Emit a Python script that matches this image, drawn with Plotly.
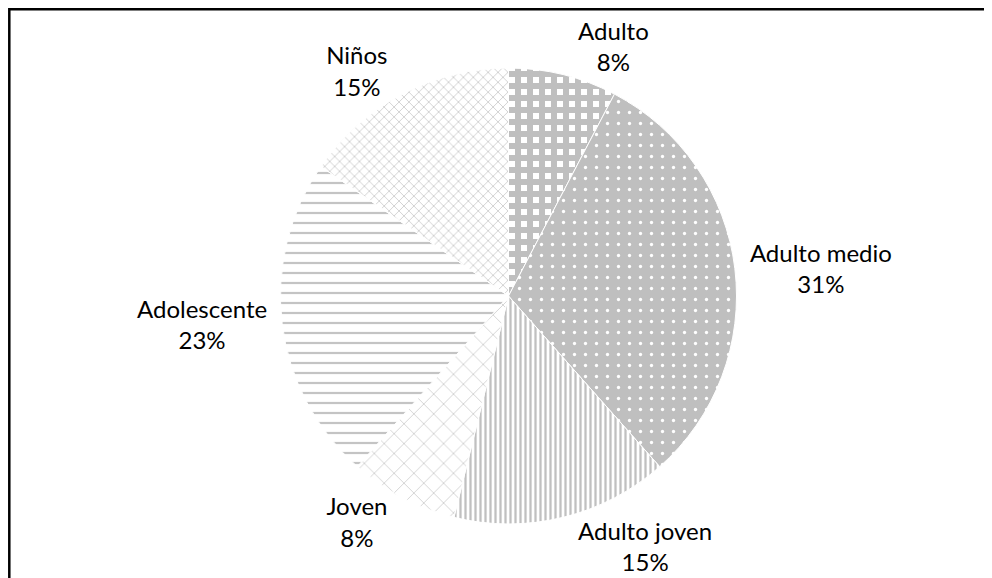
import plotly.graph_objects as go

labels = ["Adulto", "Adulto medio", "Adulto joven", "Joven", "Adolescente", "Niños"]
values = [1, 4, 2, 1, 3, 2]
pct_labels = ["8%", "31%", "15%", "8%", "23%", "15%"]

shapes = ["+", ".", "|", "x", "-", "x"]
fg = ["#bfbfbf", "#ffffff", "#c0c0c0", "#cfcfcf", "#c4c4c4", "#d0d0d0"]
bg = ["#ffffff", "#bfbfbf", "#ffffff", "#ffffff", "#ffffff", "#ffffff"]
sizes = [12, 11, 5, 14, 10, 7]
solid = [0.75, 0.07, 0.45, 0.12, 0.22, 0.25]

W, H = 992, 578
cx, cy, r = 500.5, 288, 228

fig = go.Figure(go.Pie(
    labels=labels,
    values=values,
    text=[f"{l}<br>{p}" for l, p in zip(labels, pct_labels)],
    textinfo="text",
    textposition="outside",
    sort=False,
    direction="clockwise",
    rotation=0,
    showlegend=False,
    hoverinfo="label+percent",
    marker=dict(
        colors=bg,
        line=dict(color="#ffffff", width=1),
        pattern=dict(shape=shapes, fgcolor=fg, bgcolor=bg, size=sizes,
                     solidity=solid, fillmode="replace"),
    ),
    outsidetextfont=dict(family="Lato", size=24, color="#000000"),
    domain=dict(x=[(cx - r) / W, (cx + r) / W],
                y=[(H - cy - r) / H, (H - cy + r) / H]),
))

fig.update_layout(
    width=W, height=H,
    margin=dict(l=0, r=0, t=0, b=0),
    paper_bgcolor="#ffffff",
    plot_bgcolor="#ffffff",
    shapes=[dict(type="rect", xref="paper", yref="paper",
                 x0=1.3 / W, x1=1.05, y0=-0.05, y1=1 - 1.3 / H,
                 line=dict(color="#000000", width=2.5))],
)

fig.write_html("out.html")
